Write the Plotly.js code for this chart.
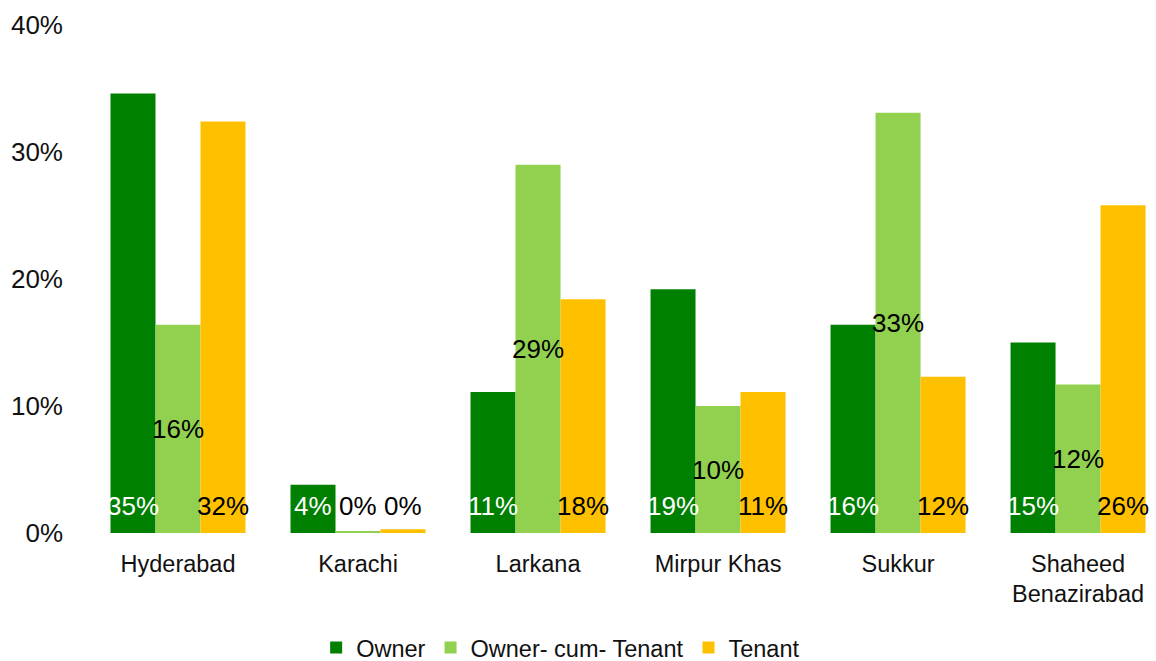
<!DOCTYPE html>
<html>
<head>
<meta charset="utf-8">
<script src="https://cdn.plot.ly/plotly-3.0.1.min.js"></script>
<style>html,body{margin:0;padding:0;background:#fff;}#chart{width:1156px;height:661px;}</style>
</head>
<body>
<div id="chart"></div>
<script>
const categories = ['Hyderabad', 'Karachi', 'Larkana', 'Mirpur Khas', 'Sukkur', 'Shaheed<br>Benazirabad'];
const seriesNames = ['Owner', 'Owner- cum- Tenant', 'Tenant'];
const owner = [0.346, 0.038, 0.111, 0.192, 0.164, 0.150];
const ownerCumTenant = [0.164, 0.0015, 0.290, 0.100, 0.331, 0.117];
const tenant = [0.324, 0.003, 0.184, 0.111, 0.123, 0.258];
const yTickVals = [0, 0.1, 0.2, 0.3, 0.4];

const colors = ['#008000', '#92D050', '#FFC000'];
const labelColors = ['#ffffff', '#000000', '#000000'];
const series = [owner, ownerCumTenant, tenant];
const FONT = 'Liberation Sans, Arial, sans-serif';

const traces = series.map((vals, k) => ({
  type: 'bar',
  name: seriesNames[k],
  x: categories,
  y: vals,
  marker: {color: colors[k], line: {width: 0}},
  hoverinfo: 'skip'
}));

// label placement
const yRange = [0, 0.4];
const plotH = 508;
const baseShift = 27;
const minCenter = baseShift * (yRange[1] - yRange[0]) / plotH;
const offsets = [-0.25, 0, 0.25];
const annotations = [];
series.forEach((vals, k) => {
  vals.forEach((v, i) => {
    let y, shift;
    if (k === 1 && v / 2 > minCenter) { y = v / 2; shift = 0; }
    else { y = 0; shift = baseShift; }
    annotations.push({
      x: i + offsets[k], xref: 'x', y: y, yref: 'y', yshift: shift,
      text: Math.round(v * 100) + '%', showarrow: false,
      xanchor: 'center', yanchor: 'middle',
      font: {family: FONT, size: 26, color: labelColors[k]}
    });
  });
});

const layout = {
  width: 1156, height: 661,
  margin: {l: 88, r: 0, t: 25, b: 128, pad: 0},
  paper_bgcolor: '#ffffff', plot_bgcolor: '#ffffff',
  barmode: 'group', bargap: 0.25, bargroupgap: 0,
  font: {family: FONT, color: '#000'},
  xaxis: {
    type: 'category',
    range: [-0.5, 5.433],
    showgrid: false, zeroline: false, showline: false,
    ticks: '', ticklabelstandoff: 14,
    tickfont: {family: FONT, size: 23.5, color: '#111'}
  },
  yaxis: {
    range: yRange,
    tickvals: yTickVals, tickformat: '.0%',
    showgrid: false, zeroline: false, showline: false,
    ticks: '', ticklabelstandoff: 24,
    tickfont: {family: FONT, size: 26, color: '#111'}
  },
  showlegend: true,
  legend: {
    orientation: 'h', xref: 'container', yref: 'container',
    x: 0.485, xanchor: 'center', y: 0.02, yanchor: 'middle',
    font: {family: FONT, size: 23.5, color: '#111'},
    itemwidth: 30, traceorder: 'normal'
  },
  annotations: annotations
};

Plotly.newPlot('chart', traces, layout, {displayModeBar: false, staticPlot: true});
</script>
</body>
</html>
